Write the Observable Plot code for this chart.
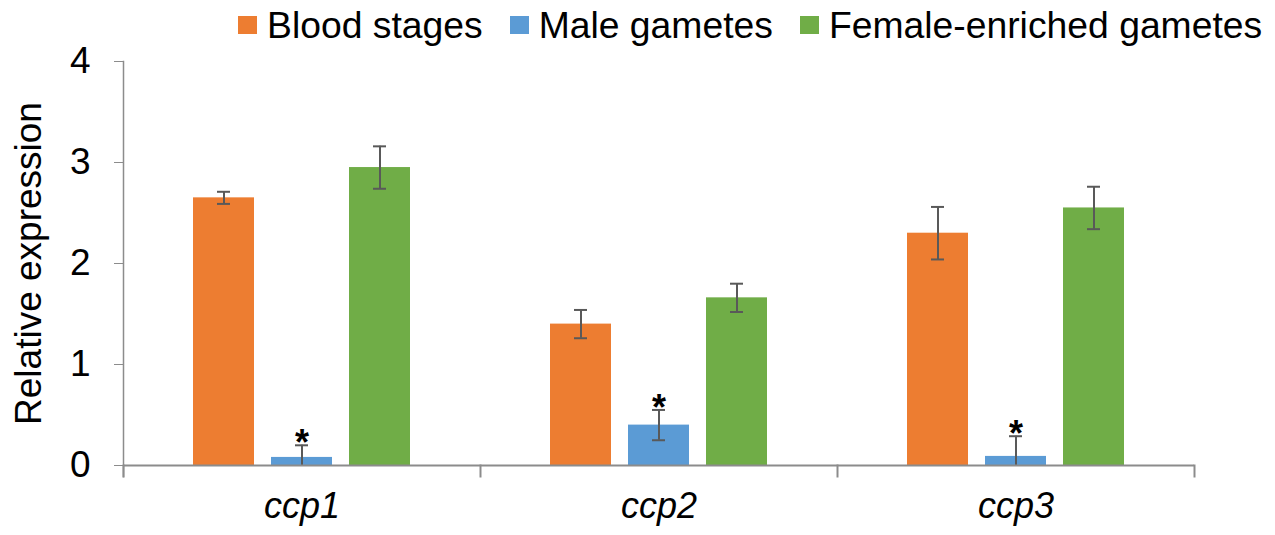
<!DOCTYPE html>
<html><head><meta charset="utf-8">
<script src="https://cdn.jsdelivr.net/npm/d3@7"></script>
<script src="https://cdn.jsdelivr.net/npm/@observablehq/plot@0.6"></script>
<style>
body{margin:0;background:#fff;font-family:"Liberation Sans",Arial,sans-serif;}
#wrap{position:relative;width:1275px;height:535px;overflow:hidden;background:#fff;}
#legend{position:absolute;z-index:2;left:238px;top:0;height:42px;display:flex;align-items:flex-start;padding-top:4px;font-size:37.3px;line-height:42px;color:#000;white-space:nowrap;}
#legend .item{display:flex;margin-right:27px;}
#legend .sw{width:19px;height:18px;margin-top:12px;margin-right:10px;}
#chart{position:absolute;z-index:1;left:0;top:28px;}
#chart svg{overflow:visible;}
g[aria-label="fx-axis tick label"] text{font-style:italic;}
</style></head><body>
<div id="wrap"><div id="legend"></div><div id="chart"></div></div>
<script>
const genes = ["ccp1", "ccp2", "ccp3"];
const stages = ["Blood stages", "Male gametes", "Female-enriched gametes"];
const colors = ["#ED7D31", "#5B9BD5", "#70AD47"];
const bloodStages = [2.65, 1.40, 2.30];
const bloodStagesErr = [0.06, 0.14, 0.26];
const maleGametes = [0.08, 0.40, 0.09];
const maleGametesErr = [0.12, 0.15, 0.20];
const femaleGametes = [2.95, 1.66, 2.55];
const femaleGametesErr = [0.21, 0.14, 0.21];
const maleSignificant = [true, true, true];
const yTicks = [0, 1, 2, 3, 4];

const values = [bloodStages, maleGametes, femaleGametes];
const errors = [bloodStagesErr, maleGametesErr, femaleGametesErr];
const rows = [];
genes.forEach((g, i) => {
  stages.forEach((s, j) => {
    rows.push({gene: g, stage: s, value: values[j][i], err: errors[j][i], sig: j === 1 && maleSignificant[i]});
  });
});

// legend
const legend = document.getElementById("legend");
stages.forEach((s, j) => {
  const it = document.createElement("div");
  it.className = "item";
  const sw = document.createElement("div");
  sw.className = "sw";
  sw.style.background = colors[j];
  const tx = document.createElement("span");
  tx.textContent = s;
  it.appendChild(sw); it.appendChild(tx);
  legend.appendChild(it);
});

const axisGray = "#8c8c8c";
const errGray = "#595959";
const chart = Plot.plot({
  width: 1275,
  height: 507,
  marginTop: 33,
  marginBottom: 70,
  marginLeft: 122,
  marginRight: 80,
  style: {fontFamily: '"Liberation Sans", Arial, sans-serif', background: "transparent", color: "#000"},
  fx: {domain: genes, padding: 0, label: null},
  x: {domain: stages, axis: null, paddingInner: 0.215, paddingOuter: 0.873},
  y: {domain: [0, 4]},
  color: {domain: stages, range: colors},
  marks: [
    Plot.barY(rows, {fx: "gene", x: "stage", y: "value", fill: "stage"}),
    Plot.ruleX(rows, {fx: "gene", x: "stage", y1: d => d.value - d.err, y2: d => d.value + d.err, stroke: errGray, strokeWidth: 2, clip: true}),
    Plot.tickY(rows, {fx: "gene", x: "stage", y: d => d.value + d.err, stroke: errGray, strokeWidth: 2, insetLeft: 24, insetRight: 24, clip: true}),
    Plot.tickY(rows, {fx: "gene", x: "stage", y: d => d.value - d.err, stroke: errGray, strokeWidth: 2, insetLeft: 24, insetRight: 24, clip: true}),
    Plot.text(rows.filter(d => d.sig), {fx: "gene", x: "stage", y: d => d.value + d.err, text: () => "*", fontSize: 36, fontWeight: "bold", fill: "#000", lineAnchor: "bottom", dy: 10}),
    Plot.ruleY([0], {stroke: axisGray, strokeWidth: 2}),
    Plot.frame({anchor: "left", insetTop: 404, insetBottom: -11, stroke: axisGray, strokeWidth: 2}),
    Plot.frame({anchor: "right", facetAnchor: "right", insetTop: 404, insetBottom: -11, stroke: axisGray, strokeWidth: 2}),
    Plot.frame({anchor: "left", facetAnchor: "left", insetBottom: -11, stroke: axisGray, strokeWidth: 1.5}),
    Plot.axisY({ticks: yTicks, tickFormat: d3.format("d"), tickSize: 9, tickPadding: 24, fontSize: 37, stroke: axisGray, fill: "#000",
      label: "Relative expression", labelAnchor: "center", labelArrow: "none", labelOffset: 109}),
    Plot.axisFx({anchor: "bottom", tickSize: 0, tickPadding: 27, fontSize: 36, fontStyle: "italic", fill: "#000", label: null})
  ]
});
document.getElementById("chart").appendChild(chart);
</script>
</body></html>
